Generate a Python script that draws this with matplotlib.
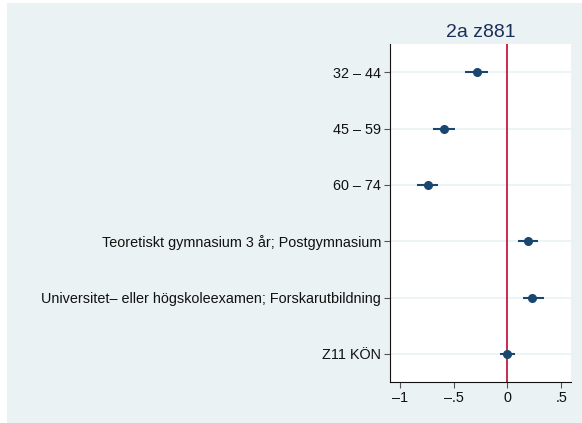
import matplotlib
matplotlib.use("Agg")
import matplotlib.pyplot as plt
from matplotlib.patches import Rectangle

plt.rcParams['font.family'] = ['Liberation Sans', 'DejaVu Sans']

categories = ["32 – 44", "45 – 59", "60 – 74",
              "Teoretiskt gymnasium 3 år; Postgymnasium",
              "Universitet– eller högskoleexamen; Forskarutbildning",
              "Z11 KÖN"]
estimates = [-0.28, -0.59, -0.74, 0.19, 0.23, 0.00]
ci_low = [-0.39, -0.69, -0.84, 0.10, 0.14, -0.07]
ci_high = [-0.18, -0.49, -0.64, 0.28, 0.34, 0.07]
xticks = [-1, -0.5, 0, 0.5]
xticklabels = ["–1", "–.5", "0", ".5"]
title = "2a z881"

W, H = 582, 423
fig = plt.figure(figsize=(W / 100, H / 100), dpi=100)
fig.patch.set_facecolor("white")
bg = "#EAF2F3"
fig.patches.append(Rectangle((7 / W, 0), 1 - 7 / W, 1 - 3 / H, transform=fig.transFigure,
                             facecolor=bg, edgecolor="none", zorder=-10))

ax = fig.add_axes([390 / W, 1 - 382 / H, (571 - 390) / W, (382 - 44) / H])
ax.set_facecolor("white")
navy = "#1a476f"
ypos = list(range(1, len(categories) + 1))

for y in ypos:
    ax.axhline(y, color=bg, lw=1.2, zorder=0)
ax.axvline(0, color="#c10534", lw=1.2, zorder=1)
ax.hlines(ypos, ci_low, ci_high, color=navy, lw=1.5, zorder=2)
ax.plot(estimates, ypos, "o", color=navy, ms=5.5, zorder=3)

ax.set_xlim(-1.09, 0.59)
ax.set_ylim(6.5, 0.5)
ax.set_yticks(ypos)
ax.set_yticklabels(categories, fontsize=10.4, color="#111111")
ax.set_xticks(xticks)
ax.set_xticklabels(xticklabels, fontsize=10.4, color="#111111")
for s in ["top", "right"]:
    ax.spines[s].set_visible(False)
ax.spines["left"].set_color("#111111")
ax.spines["bottom"].set_color("#111111")
ax.tick_params(axis="both", length=4.5, width=0.8, color="#555555", pad=2)
ax.set_title(title, fontsize=14, color="#1c2f5a", pad=5)

fig.savefig("out.png", dpi=100, facecolor=fig.get_facecolor())
